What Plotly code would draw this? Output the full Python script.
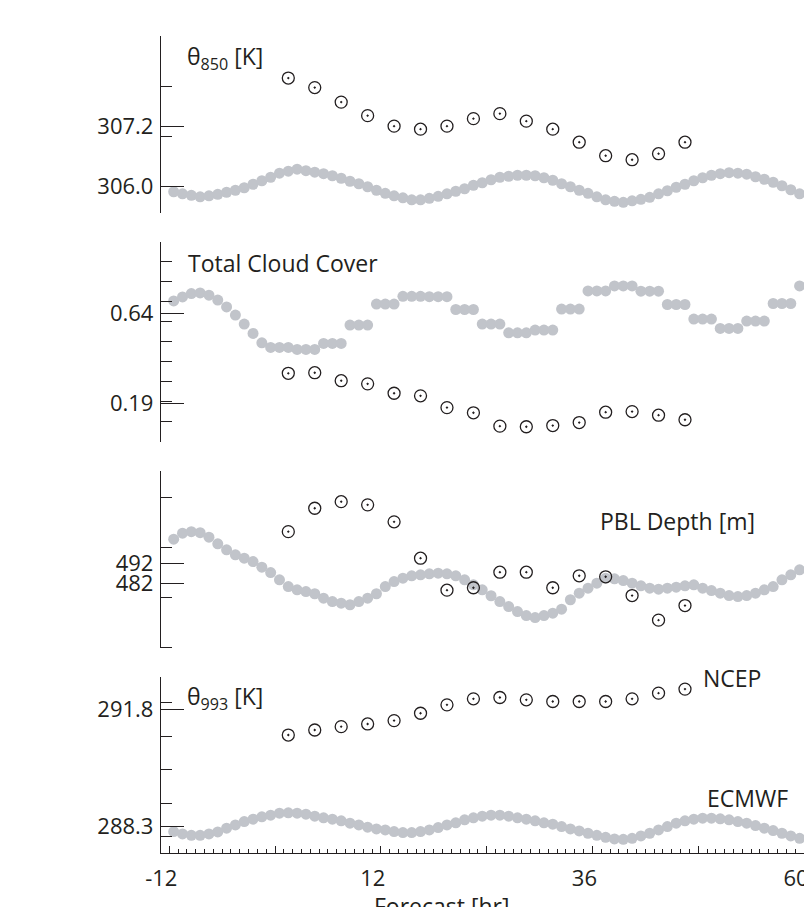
import plotly.graph_objects as go

# ---------------- data ----------------
hours_ecmwf = [-11.5, -10.5, -9.5, -8.5, -7.5, -6.5, -5.5, -4.5, -3.5, -2.5, -1.5, -0.5,
               0.5, 1.5, 2.5, 3.5, 4.5, 5.5, 6.5, 7.5, 8.5, 9.5, 10.5, 11.5,
               12.5, 13.5, 14.5, 15.5, 16.5, 17.5, 18.5, 19.5, 20.5, 21.5, 22.5, 23.5,
               24.5, 25.5, 26.5, 27.5, 28.5, 29.5, 30.5, 31.5, 32.5, 33.5, 34.5, 35.5,
               36.5, 37.5, 38.5, 39.5, 40.5, 41.5, 42.5, 43.5, 44.5, 45.5, 46.5, 47.5,
               48.5, 49.5, 50.5, 51.5, 52.5, 53.5, 54.5, 55.5, 56.5, 57.5, 58.5, 59.5]
hours_ncep = [1.5, 4.5, 7.5, 10.5, 13.5, 16.5, 19.5, 22.5, 25.5, 28.5, 31.5, 34.5,
              37.5, 40.5, 43.5, 46.5]

theta850_ecmwf = [305.90, 305.86, 305.83, 305.80, 305.82, 305.85, 305.89, 305.93, 305.98, 306.05, 306.12, 306.19,
                  306.27, 306.31, 306.35, 306.32, 306.29, 306.26, 306.22, 306.17, 306.11, 306.06, 306.00, 305.93,
                  305.87, 305.82, 305.78, 305.74, 305.74, 305.77, 305.81, 305.86, 305.91, 305.96, 306.03, 306.08,
                  306.14, 306.19, 306.21, 306.23, 306.23, 306.22, 306.18, 306.13, 306.06, 306.00, 305.93, 305.87,
                  305.80, 305.74, 305.71, 305.69, 305.72, 305.75, 305.79, 305.86, 305.92, 305.99, 306.05, 306.12,
                  306.18, 306.23, 306.26, 306.28, 306.27, 306.25, 306.20, 306.15, 306.09, 306.02, 305.94, 305.86]
theta850_ncep = [308.17, 307.98, 307.69, 307.42, 307.21, 307.15, 307.21, 307.36, 307.46, 307.31, 307.15, 306.89,
                 306.62, 306.54, 306.66, 306.89]

cloud_ecmwf = [0.703, 0.723, 0.740, 0.743, 0.732, 0.707, 0.673, 0.632, 0.587, 0.540, 0.493, 0.470,
               0.470, 0.470, 0.460, 0.460, 0.460, 0.490, 0.490, 0.490, 0.582, 0.582, 0.582, 0.687,
               0.687, 0.687, 0.726, 0.726, 0.726, 0.724, 0.724, 0.724, 0.660, 0.660, 0.660, 0.587,
               0.587, 0.587, 0.543, 0.543, 0.543, 0.557, 0.557, 0.557, 0.662, 0.662, 0.662, 0.753,
               0.753, 0.753, 0.778, 0.778, 0.778, 0.752, 0.752, 0.752, 0.685, 0.685, 0.685, 0.612,
               0.612, 0.612, 0.565, 0.565, 0.565, 0.602, 0.602, 0.602, 0.690, 0.690, 0.690, 0.778]
cloud_ncep = [0.340, 0.343, 0.303, 0.287, 0.240, 0.227, 0.168, 0.142, 0.075, 0.072, 0.078, 0.093,
              0.145, 0.148, 0.130, 0.107]

pbl_ecmwf = [504.0, 507.0, 507.8, 507.3, 505.0, 501.7, 498.7, 496.2, 494.5, 492.8, 490.0, 487.3,
             483.7, 480.3, 478.7, 477.8, 476.7, 474.5, 472.8, 472.0, 471.2, 472.8, 474.5, 476.7,
             480.3, 482.8, 484.5, 485.7, 486.2, 486.7, 487.0, 486.7, 485.7, 483.7, 481.2, 478.7,
             475.7, 472.8, 470.3, 467.8, 465.8, 464.8, 465.8, 467.0, 469.0, 473.7, 477.0, 479.5,
             482.0, 484.5, 484.2, 483.3, 482.0, 480.7, 479.5, 479.0, 479.5, 480.0, 480.7, 481.2,
             479.5, 478.3, 477.0, 475.8, 475.3, 475.8, 477.0, 478.7, 480.3, 483.7, 486.2, 488.7]
pbl_ncep = [507.8, 519.5, 522.8, 521.2, 512.7, 494.5, 478.5, 479.7, 487.5, 487.5, 479.7, 485.7,
            485.2, 475.8, 463.5, 470.8]

theta993_ecmwf = [288.15, 288.08, 288.04, 288.04, 288.08, 288.14, 288.25, 288.35, 288.45, 288.52, 288.59, 288.64,
                  288.70, 288.71, 288.70, 288.67, 288.61, 288.56, 288.52, 288.47, 288.40, 288.35, 288.28, 288.23,
                  288.20, 288.15, 288.12, 288.12, 288.15, 288.20, 288.27, 288.35, 288.41, 288.50, 288.56, 288.61,
                  288.64, 288.64, 288.61, 288.56, 288.52, 288.47, 288.41, 288.37, 288.30, 288.23, 288.17, 288.10,
                  288.04, 287.98, 287.93, 287.92, 287.95, 288.02, 288.10, 288.20, 288.30, 288.40, 288.47, 288.52,
                  288.55, 288.55, 288.53, 288.50, 288.45, 288.40, 288.33, 288.25, 288.18, 288.10, 288.02, 287.95]
theta993_ncep = [291.03, 291.18, 291.28, 291.36, 291.46, 291.68, 291.93, 292.11, 292.15, 292.08, 292.03, 292.03,
                 292.03, 292.11, 292.28, 292.40]

x_tickvals = [-12, 0, 12, 24, 36, 48, 60]
x_ticktext = ["-12", "", "12", "", "36", "", "60"]

panels = [
    dict(ec=theta850_ecmwf, nc=theta850_ncep, rng=[305.47, 309.01],
         tv=[306.0, 307.2], tt=["306.0", "307.2"], mv=[306, 307, 308, 309]),
    dict(ec=cloud_ecmwf, nc=cloud_ncep, rng=[-0.003, 1.0],
         tv=[0.19, 0.64], tt=["0.19", "0.64"], mv=[0, 0.1, 0.2, 0.3, 0.4, 0.5, 0.6, 0.7, 0.8, 0.9, 1.0]),
    dict(ec=pbl_ecmwf, nc=pbl_ncep, rng=[449.4, 538.3],
         tv=[482, 492], tt=["482", "492"], mv=[450, 475, 500, 525]),
    dict(ec=theta993_ecmwf, nc=theta993_ncep, rng=[287.52, 292.77],
         tv=[288.3, 291.8], tt=["288.3", "291.8"], mv=[288, 289, 290, 291, 292]),
]

# ---------------- layout helpers ----------------
W, H = 804, 907
L = 161
INK = "#231f20"
GRAY = "#c1c4ca"
FONT = "Open Sans"

def px_x(px):
    return (px - L) / (W - L)

def px_y(py):
    return 1 - py / H

# vertical pixel extents of each panel (top, bottom)
extents = [(36, 213.3), (241.7, 441.7), (470.7, 648.3), (676.7, 852.7)]

fig = go.Figure()
for i, p in enumerate(panels):
    yname = "y" if i == 0 else f"y{i+1}"
    fig.add_trace(go.Scatter(x=hours_ecmwf, y=p["ec"], mode="markers", xaxis="x", yaxis=yname,
                             marker=dict(color=GRAY, size=11, line=dict(width=0)),
                             showlegend=False, hoverinfo="skip"))
    fig.add_trace(go.Scatter(x=hours_ncep, y=p["nc"], mode="markers", xaxis="x", yaxis=yname,
                             marker=dict(symbol="circle-open-dot", color=INK, size=12,
                                         line=dict(width=1.3, color=INK)),
                             showlegend=False, hoverinfo="skip"))

layout = dict(
    width=W, height=H,
    margin=dict(l=L, r=0, t=0, b=0, pad=0),
    paper_bgcolor="white", plot_bgcolor="white",
    font=dict(family=FONT, color=INK, size=22),
    xaxis=dict(domain=[0, 1], range=[-12.94, 60.0], anchor="y4",
               tickmode="array", tickvals=x_tickvals, ticktext=x_ticktext,
               ticks="inside", ticklen=7, tickwidth=1.2, tickcolor=INK,
               showline=True, linecolor=INK, linewidth=1.3,
               showgrid=False, zeroline=False,
               minor=dict(tickmode="linear", tick0=0, dtick=1, ticks="inside",
                          ticklen=4, tickwidth=1, tickcolor=INK, showgrid=False),
               tickfont=dict(size=22, color=INK, family=FONT),
               ticklabelshift=-8, ticklabelstandoff=6,
               ticklabeloverflow="allow", automargin=False),
)
for i, p in enumerate(panels):
    top, bot = extents[i]
    key = "yaxis" if i == 0 else f"yaxis{i+1}"
    layout[key] = dict(
        domain=[px_y(bot), px_y(top)], range=p["rng"], anchor="x",
        tickmode="array", tickvals=p["tv"], ticktext=p["tt"],
        ticks="inside", ticklen=23, tickwidth=1.3, tickcolor=INK,
        showline=True, linecolor=INK, linewidth=1.3,
        showgrid=False, zeroline=False,
        minor=dict(tickmode="array", tickvals=p["mv"], ticks="inside",
                   ticklen=11, tickwidth=1, tickcolor=INK, showgrid=False),
        tickfont=dict(size=22, color=INK, family=FONT),
        ticklabelstandoff=2, automargin=False,
    )

annots = [
    ("θ<sub>850</sub> [K]", 185, 58, "left"),
    ("Total Cloud Cover", 186, 263, "left"),
    ("PBL Depth [m]", 598, 521, "left"),
    ("θ<sub>993</sub> [K]", 185, 697, "left"),
    ("NCEP", 701, 678, "left"),
    ("ECMWF", 705, 798, "left"),
    ("Forecast [hr]", 442, 906, "center"),
]
layout["annotations"] = [
    dict(text=t, x=px_x(x), y=px_y(y), xref="paper", yref="paper",
         xanchor=a, yanchor="middle", showarrow=False,
         font=dict(family=FONT, size=23, color=INK))
    for t, x, y, a in annots
]

fig.update_layout(**layout)
fig.write_html("out.html")
